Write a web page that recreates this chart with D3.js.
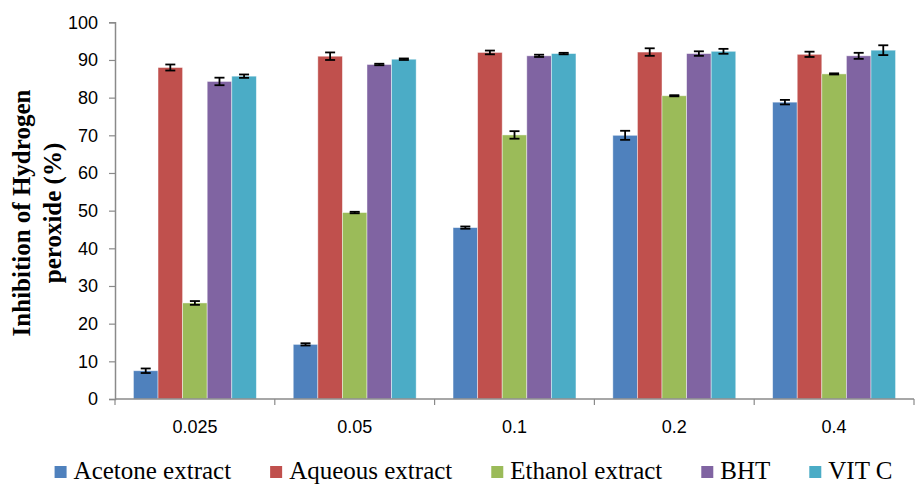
<!DOCTYPE html>
<html>
<head>
<meta charset="utf-8">
<script src="https://cdn.jsdelivr.net/npm/d3@7"></script>
<style>
  html, body { margin: 0; padding: 0; background: #fff; }
  svg { display: block; }
</style>
</head>
<body>
<svg id="chart" width="917" height="484"></svg>
<script>
const categories = ["0.025", "0.05", "0.1", "0.2", "0.4"];
const seriesNames = ["Acetone extract", "Aqueous extract", "Ethanol extract", "BHT", "VIT C"];
const acetone = [7.5, 14.5, 45.5, 70.0, 78.8];
const aqueous = [88.0, 91.0, 92.0, 92.1, 91.5];
const ethanol = [25.5, 49.5, 70.1, 80.5, 86.3];
const bht     = [84.3, 88.8, 91.1, 91.7, 91.1];
const vitc    = [85.7, 90.2, 91.7, 92.3, 92.6];
const acetoneErr = [0.6, 0.3, 0.3, 1.2, 0.6];
const aqueousErr = [0.8, 1.0, 0.5, 1.0, 0.7];
const ethanolErr = [0.5, 0.2, 1.0, 0.15, 0.15];
const bhtErr     = [1.0, 0.2, 0.3, 0.6, 0.8];
const vitcErr    = [0.45, 0.2, 0.2, 0.65, 1.3];
const yTicks = [0, 10, 20, 30, 40, 50, 60, 70, 80, 90, 100];
const colors = ["#4F81BD", "#C0504D", "#9BBB59", "#8064A2", "#4BACC6"];

(function () {
const values = [acetone, aqueous, ethanol, bht, vitc];
const errors = [acetoneErr, aqueousErr, ethanolErr, bhtErr, vitcErr];

const svg = d3.select("#chart");
const mLeft = 115, mRight = 914, mTop = 22.3, mBottom = 399;

const x0 = d3.scaleBand().domain(categories).range([mLeft, mRight]).paddingInner(0).paddingOuter(0);
const x1 = d3.scaleBand().domain(seriesNames).range([0, x0.bandwidth()]).paddingInner(0).paddingOuter(0.75);
const y = d3.scaleLinear().domain([0, 100]).range([mBottom, mTop]);

const data = [];
categories.forEach((c, ci) => {
  seriesNames.forEach((s, si) => {
    data.push({ cat: c, series: s, si, value: values[si][ci], err: errors[si][ci] });
  });
});

// bars
svg.append("g").selectAll("rect").data(data).join("rect")
  .attr("x", d => x0(d.cat) + x1(d.series))
  .attr("y", d => y(d.value))
  .attr("width", x1.bandwidth())
  .attr("height", d => y(0) - y(d.value))
  .attr("fill", d => colors[d.si])
  .attr("stroke", "rgba(255,255,255,0.55)")
  .attr("stroke-width", 0.8);

// error bars
const eb = svg.append("g").attr("stroke", "#000").attr("stroke-width", 1.8);
data.forEach(d => {
  const cx = x0(d.cat) + x1(d.series) + x1.bandwidth() / 2;
  const y1 = y(d.value + d.err), y2 = y(d.value - d.err);
  eb.append("line").attr("x1", cx).attr("x2", cx).attr("y1", y1).attr("y2", y2);
  eb.append("line").attr("x1", cx - 5).attr("x2", cx + 5).attr("y1", y1).attr("y2", y1);
  eb.append("line").attr("x1", cx - 5).attr("x2", cx + 5).attr("y1", y2).attr("y2", y2);
});

// y axis
const yAxis = d3.axisLeft(y).tickValues(yTicks).tickSize(6).tickPadding(11).tickFormat(d3.format("d"));
const gy = svg.append("g").attr("transform", `translate(${mLeft},0)`).call(yAxis);
gy.select(".domain").attr("stroke", "#8a8a8a").attr("stroke-width", 1.5);
gy.selectAll(".tick line").attr("stroke", "#8a8a8a").attr("stroke-width", 1.2);
gy.selectAll(".tick text").attr("font-family", "Liberation Sans, Arial, sans-serif").attr("font-size", 18).attr("fill", "#000");

// x axis
const gx = svg.append("g").attr("transform", `translate(0,${mBottom})`);
gx.append("line").attr("x1", mLeft).attr("x2", mRight).attr("y1", 0).attr("y2", 0)
  .attr("stroke", "#8a8a8a").attr("stroke-width", 1.5);
const boundaries = categories.map(c => x0(c)).concat([mRight]);
gx.selectAll("line.tk").data(boundaries).join("line").attr("class", "tk")
  .attr("x1", d => d).attr("x2", d => d).attr("y1", 0).attr("y2", 6)
  .attr("stroke", "#8a8a8a").attr("stroke-width", 1.2);
gx.selectAll("text").data(categories).join("text")
  .attr("x", d => x0(d) + x0.bandwidth() / 2)
  .attr("y", 34)
  .attr("text-anchor", "middle")
  .attr("font-family", "Liberation Sans, Arial, sans-serif")
  .attr("font-size", 18)
  .attr("fill", "#000")
  .text(d => d);

// y axis title
const title = svg.append("text")
  .attr("transform", "translate(29.5,213) rotate(-90)")
  .attr("text-anchor", "middle")
  .attr("font-family", "Liberation Serif, Times New Roman, serif")
  .attr("font-weight", "bold")
  .attr("font-size", 25)
  .attr("fill", "#000");
title.append("tspan").attr("x", 0).attr("y", 0).text("Inhibition of Hydrogen");
title.append("tspan").attr("x", 0).attr("y", 31).text("peroxide (%)");

// legend
const leg = svg.append("g");
const items = [];
seriesNames.forEach((s, i) => {
  const g = leg.append("g");
  g.append("rect").attr("x", 0).attr("y", -13).attr("width", 12).attr("height", 12).attr("fill", colors[i]);
  const t = g.append("text").attr("x", 19).attr("y", 0)
    .attr("font-family", "Liberation Serif, Times New Roman, serif")
    .attr("font-size", 25).attr("fill", "#000").text(s);
  items.push({ g, w: 19 + t.node().getComputedTextLength() });
});
const gap = 39;
const total = items.reduce((a, it) => a + it.w, 0) + gap * (items.length - 1);
let lx = 473.5 - total / 2;
items.forEach(it => {
  it.g.attr("transform", `translate(${lx},479)`);
  lx += it.w + gap;
});
})();
</script>
</body>
</html>
